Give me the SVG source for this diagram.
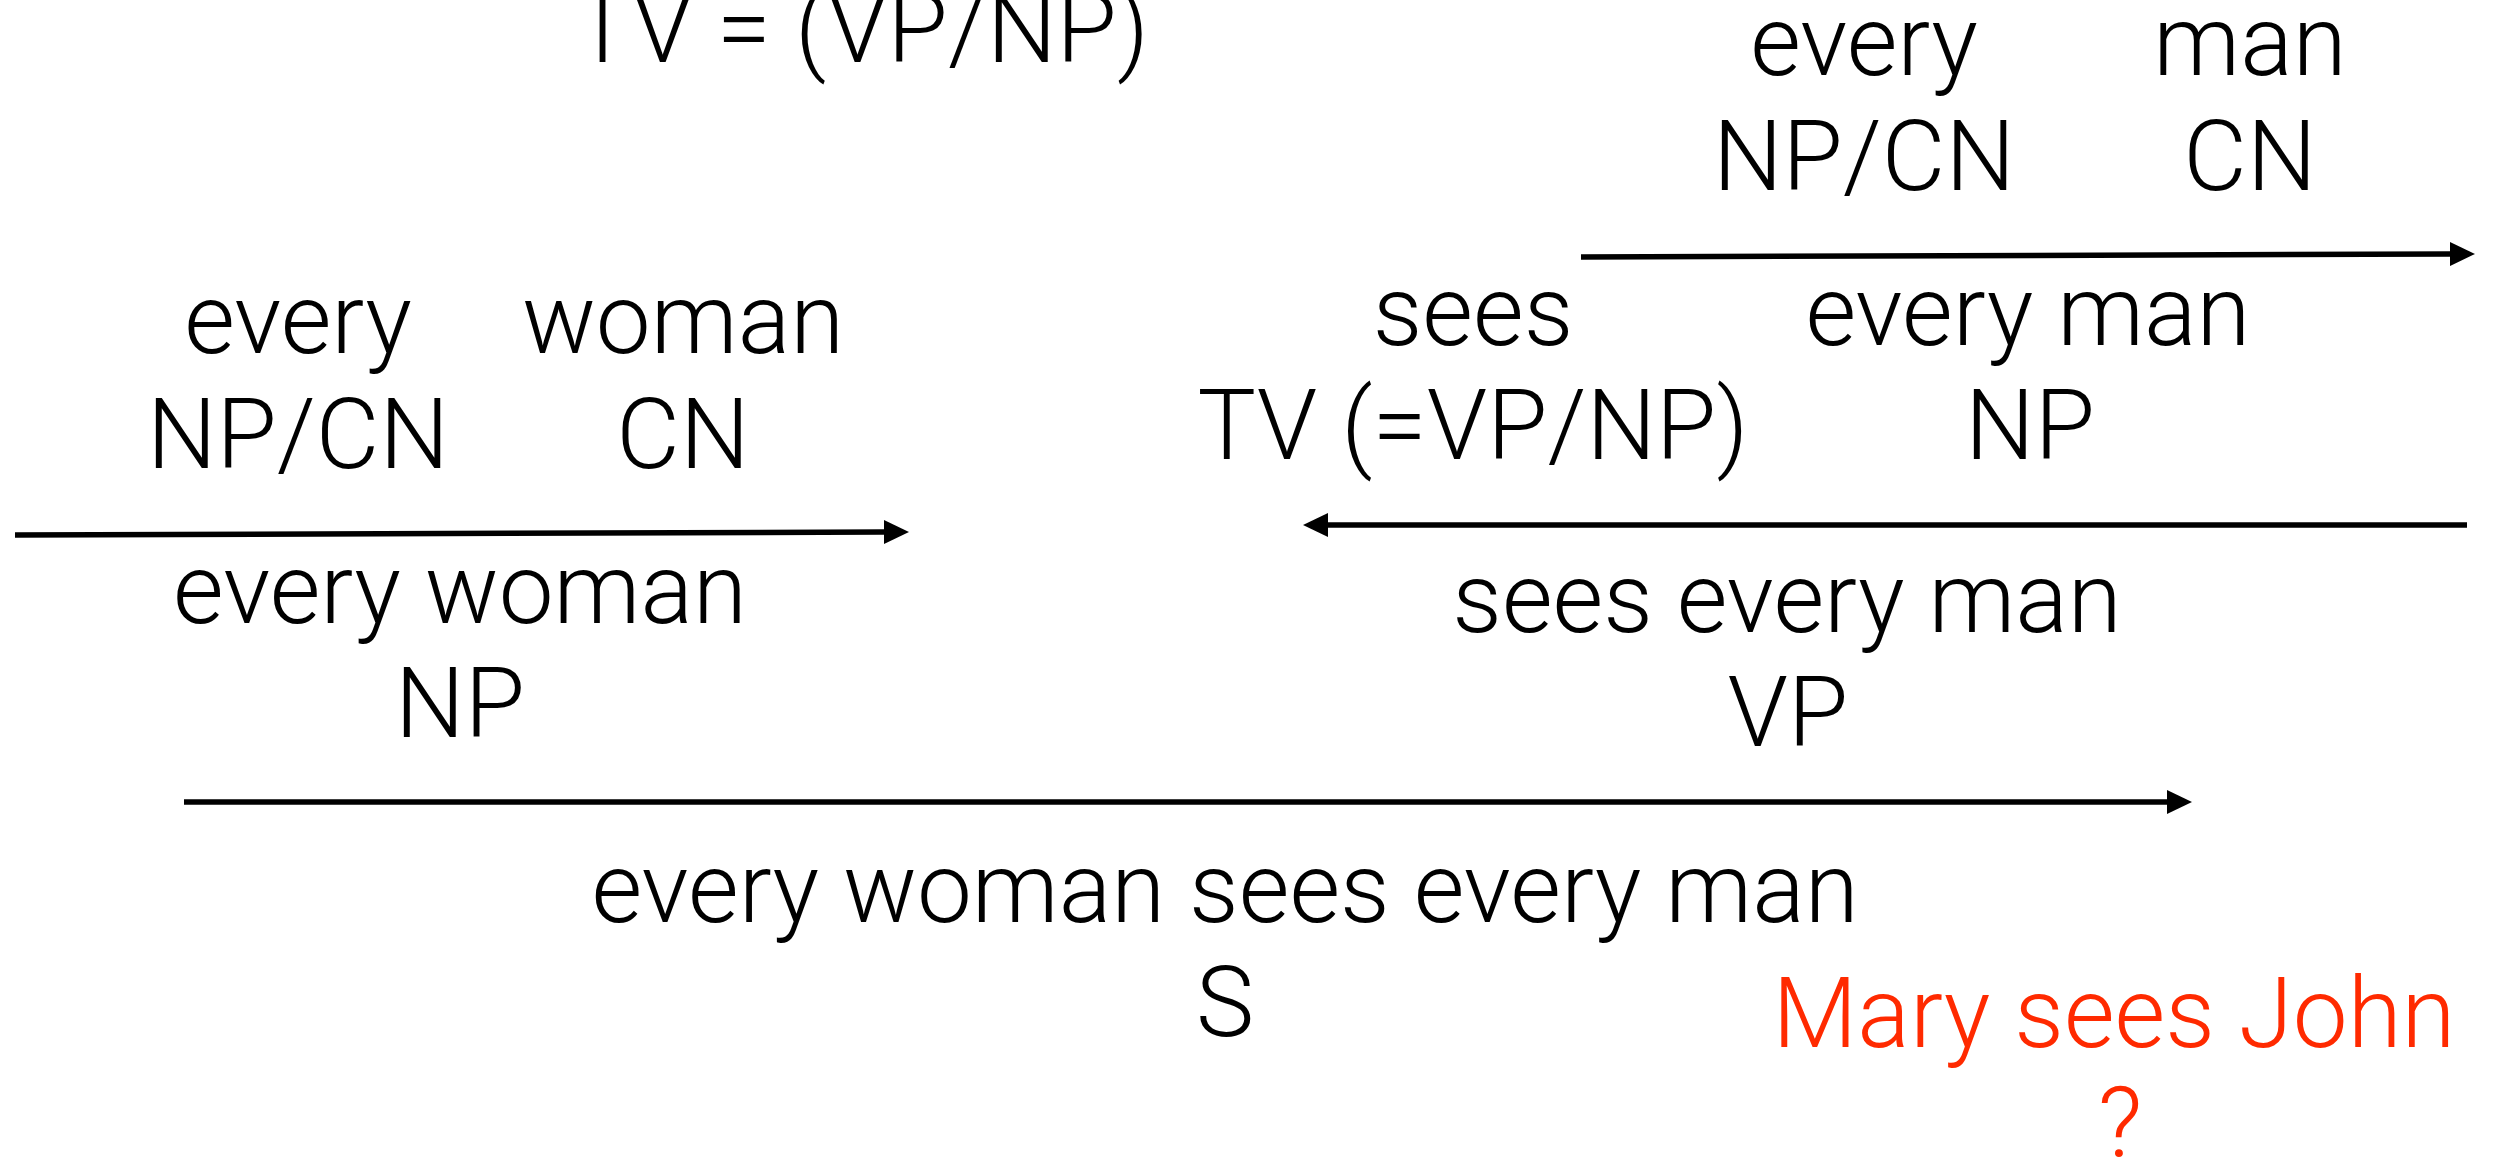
<svg xmlns="http://www.w3.org/2000/svg" width="2493" height="1159" viewBox="0 0 2493 1159">
  <style>
    text { font-family: Roboto, "Liberation Sans", sans-serif; font-weight: 300; font-size: 98px; fill: #000; text-anchor: middle; }
    .red { fill: #FF2A00; }
    .rule { stroke: #000; stroke-width: 5.5; fill: none; marker-end: url(#head); }
  </style>
  <defs>
    <!-- filled triangular head; the rule stops at its base -->
    <marker id="head" viewBox="0 0 25 24" refX="0" refY="12" markerWidth="25" markerHeight="24" markerUnits="userSpaceOnUse" orient="auto">
      <path d="M0,0 L25,12 L0,24 Z" fill="#000"/>
    </marker>
  </defs>
  <rect width="2493" height="1159" fill="#fff"/>

  <g id="tv-definition"><text x="861" y="62">TV = (VP/NP)</text></g>

  <g id="every-obj"><text x="1864" y="75">every</text><text x="1864" y="190">NP/CN</text></g>
  <g id="man"><text x="2250" y="75">man</text><text x="2250" y="190">CN</text></g>

  <g id="every-subj"><text x="298" y="353">every</text><text x="298" y="468">NP/CN</text></g>
  <g id="woman"><text x="683" y="353">woman</text><text x="683" y="468">CN</text></g>
  <g id="every-woman"><text x="460" y="623">every woman</text><text x="460" y="737">NP</text></g>

  <g id="sees"><text x="1473" y="345">sees</text><text x="1473" y="459">TV (=VP/NP)</text></g>
  <g id="every-man"><text x="2028" y="345">every man</text><text x="2030" y="459">NP</text></g>
  <g id="sees-every-man"><text x="1787" y="632">sees every man</text><text x="1788" y="746">VP</text></g>

  <g id="sentence"><text x="1225" y="922">every woman sees every man</text><text x="1225" y="1036">S</text></g>

  <g id="mary-sees-john"><text class="red" x="2114" y="1047">Mary sees John</text><text class="red" x="2120" y="1157">?</text></g>

  <g id="connectors">
    <line class="rule" x1="1581" y1="257" x2="2450" y2="254"/>
    <line class="rule" x1="15" y1="535" x2="884" y2="532"/>
    <line class="rule" x1="2467" y1="525" x2="1328" y2="525"/>
    <line class="rule" x1="184" y1="802" x2="2167" y2="802"/>
  </g>
</svg>
